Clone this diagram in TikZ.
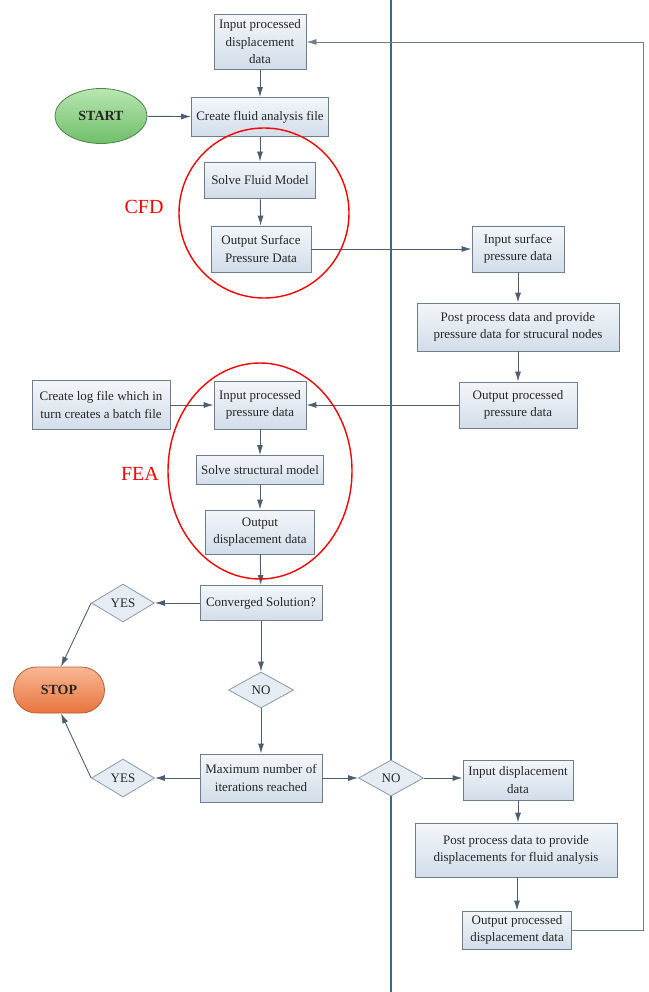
\documentclass[tikz,border=0pt]{standalone}
\usepackage{fontspec}
\setmainfont{Liberation Serif}
\usetikzlibrary{arrows.meta,shapes.geometric,shapes.misc,shadings}
\definecolor{boxline}{HTML}{6F7E8E}
\definecolor{boxtop}{HTML}{F3F6FA}
\definecolor{boxbot}{HTML}{D2DDE9}
\definecolor{arrowc}{HTML}{4A5F72}
\definecolor{vline}{HTML}{3A6791}
\definecolor{startA}{HTML}{B8E6B0}
\definecolor{startB}{HTML}{6FBF6A}
\definecolor{stopA}{HTML}{F8B894}
\definecolor{stopB}{HTML}{E8743E}
\begin{document}
\begin{tikzpicture}[x=1pt,y=-1pt,
  box/.style={draw=boxline,line width=0.9pt,top color=boxtop,bottom color=boxbot,
    inner sep=0pt,align=center,font=\fontsize{13}{17.5}\selectfont,text=black!85},
  dia/.style={diamond,aspect=1.7,draw=boxline!80,line width=0.8pt,fill=boxtop!60!boxbot,
    inner sep=0pt,font=\fontsize{13}{16}\selectfont,text=black!85},
  arr/.style={draw=arrowc,line width=0.9pt,-{Latex[length=10pt,width=6pt]}},
  lbl/.style={text=red,font=\fontsize{20}{22}\selectfont}
]
\useasboundingbox (0,0) rectangle (648,992);
% central separator line
\draw[vline,line width=2pt] (391,0) -- (391,992);

% CFD column
\node[box,minimum width=92pt,minimum height=55pt] (ipd) at (260,42) {Input processed\\displacement\\data};
\node[ellipse,draw=startB!70!black,line width=0.8pt,top color=startA,bottom color=startB,
  minimum width=92pt,minimum height=55pt,inner sep=0pt,font=\bfseries\fontsize{14}{16}\selectfont,text=black!85] (start) at (101,116) {START};
\node[box,minimum width=137pt,minimum height=39pt] (create) at (260,117) {Create fluid analysis file};
\node[box,minimum width=111pt,minimum height=36pt] (solvef) at (260,180) {Solve Fluid Model};
\node[box,minimum width=100pt,minimum height=46pt] (outsurf) at (261,249) {Output Surface\\Pressure Data};

% pressure processing column
\node[box,minimum width=92pt,minimum height=46pt] (insurf) at (518,249) {Input surface\\pressure data};
\node[box,minimum width=202pt,minimum height=48pt] (postp) at (518,327) {Post process data and provide\\pressure data for strucural nodes};
\node[box,minimum width=118pt,minimum height=46pt] (outpp) at (518,405) {Output processed\\pressure data};

% FEA column
\node[box,minimum width=138pt,minimum height=49pt] (logf) at (101,405) {Create log file which in\\turn creates a batch file};
\node[box,minimum width=92pt,minimum height=48pt] (inpp) at (260,405) {Input processed\\pressure data};
\node[box,minimum width=127pt,minimum height=29pt] (solves) at (260,470) {Solve structural model};
\node[box,minimum width=109pt,minimum height=44pt] (outd) at (260,532) {Output\\displacement data};

% decisions
\node[box,minimum width=122pt,minimum height=35pt] (conv) at (261,603) {Converged Solution?};
\node[dia,minimum width=63pt,minimum height=38pt] (yes1) at (123,603) {YES};
\node[rounded rectangle,draw=stopB!80!black,line width=0.8pt,top color=stopA,bottom color=stopB,
  minimum width=91pt,minimum height=46pt,inner sep=0pt,font=\bfseries\fontsize{14}{16}\selectfont,text=black!85] (stop) at (59,690) {STOP};
\node[dia,minimum width=65pt,minimum height=36pt] (no1) at (261,690) {NO};
\node[box,minimum width=122pt,minimum height=48pt] (maxit) at (261,778) {Maximum number of\\iterations reached};
\node[dia,minimum width=63pt,minimum height=38pt] (yes2) at (123,778) {YES};
\node[dia,minimum width=65pt,minimum height=36pt] (no2) at (391,778) {NO};

% displacement processing column
\node[box,minimum width=110pt,minimum height=40pt] (indisp) at (518,780) {Input displacement\\data};
\node[box,minimum width=202pt,minimum height=54pt] (postd) at (516,850) {Post process data to provide\\displacements for fluid analysis};
\node[box,minimum width=109pt,minimum height=38pt] (outpd) at (517,930) {Output processed\\displacement data};

% connectors
\draw[arr] (ipd) -- (create);
\draw[arr] (start) -- (create);
\draw[arr] (create) -- (solvef);
\draw[arr] (solvef) -- (outsurf);
\draw[arr] (outsurf) -- (insurf);
\draw[arr] (insurf) -- (postp);
\draw[arr] (postp) -- (outpp);
\draw[arr] (outpp) -- (inpp);
\draw[arr] (logf) -- (inpp);
\draw[arr] (inpp) -- (solves);
\draw[arr] (solves) -- (outd);
\draw[arr] (outd) -- (conv);
\draw[arr] (conv) -- (yes1);
\draw[arr] (yes1.west) -- ([xshift=2pt]stop.north);
\draw[arr] (conv) -- (no1);
\draw[arr] (no1) -- (maxit);
\draw[arr] (maxit) -- (yes2);
\draw[arr] (yes2.west) -- ([xshift=2pt]stop.south);
\draw[arr] (maxit) -- (no2);
\draw[arr] (no2.east) -- (no2.east -| indisp.west);
\draw[arr] (indisp) -- (postd.north -| indisp);
\draw[arr] (postd.south -| outpd) -- (outpd);
\coordinate (fbb) at (643,930);
\coordinate (fbt) at (643,42);
\draw[arr,draw=boxline] (outpd.east) -- (fbb) -- (fbt) -- (ipd.east);

% red groupings
\draw[red,line width=1.4pt] (264,213) ellipse [x radius=85pt,y radius=85pt];
\draw[red,line width=1.4pt] (260,471) ellipse [x radius=92pt,y radius=108pt];
\node[lbl] (cfd) at (144,207) {CFD};
\node[lbl] (fea) at (140,474) {FEA};
\end{tikzpicture}
\end{document}
